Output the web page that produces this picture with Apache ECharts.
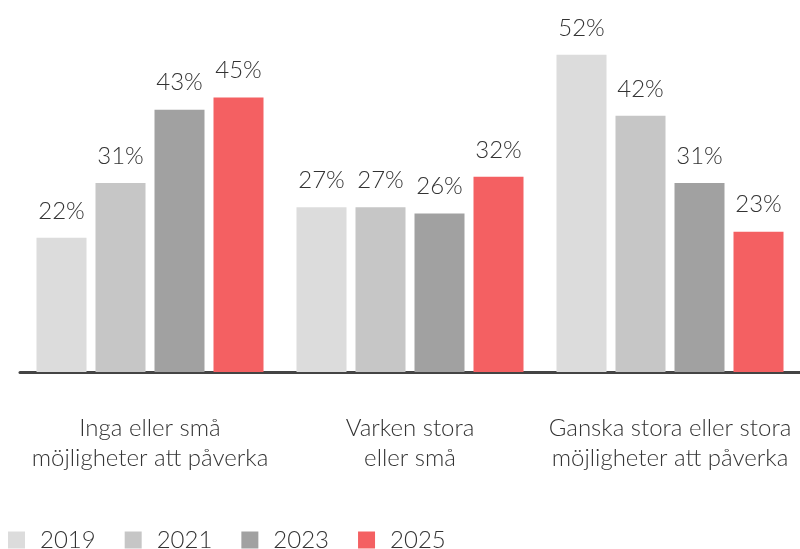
<!DOCTYPE html>
<html>
<head>
<meta charset="utf-8">
<script src="https://cdn.jsdelivr.net/npm/echarts@6/dist/echarts.min.js"></script>
<style>
  html, body { margin: 0; padding: 0; background: #fff; }
  #chart { width: 800px; height: 549px; }
</style>
</head>
<body>
<div id="chart"></div>
<script>
const categories = ['Inga eller små\nmöjligheter att påverka', 'Varken stora\neller små', 'Ganska stora eller stora\nmöjligheter att påverka']
const years = ['2019', '2021', '2023', '2025']
const values2019 = [22, 27, 52]
const values2021 = [31, 27, 42]
const values2023 = [43, 26, 31]
const values2025 = [45, 32, 23]
const colors = ['#DCDCDC', '#C6C6C6', '#A1A1A1', '#F46062']

const font = 'Lato, sans-serif'
const seriesData = [values2019, values2021, values2023, values2025]

const chart = echarts.init(document.getElementById('chart'))
chart.setOption({
  animation: false,
  color: colors,
  textStyle: { fontFamily: font },
  legend: {
    data: years,
    left: 3,
    top: 523,
    itemWidth: 17,
    itemHeight: 17,
    itemGap: 29,
    icon: 'rect',
    textStyle: {
      fontFamily: font,
      fontWeight: 300,
      fontSize: 24,
      color: '#333',
      padding: [0, 0, 0, 10]
    }
  },
  grid: {
    left: 20,
    right: 0,
    top: 6,
    bottom: 177
  },
  xAxis: {
    type: 'category',
    data: categories,
    axisTick: { show: false },
    axisLine: { lineStyle: { color: '#444', width: 3 } },
    axisLabel: {
      margin: 41,
      fontFamily: font,
      fontWeight: 300,
      fontSize: 24,
      lineHeight: 30,
      color: '#333',
      interval: 0
    }
  },
  yAxis: {
    type: 'value',
    min: 0,
    max: 60,
    show: false
  },
  series: seriesData.map((d, i) => ({
    name: years[i],
    type: 'bar',
    data: d,
    barWidth: 50,
    barGap: '18%',
    label: {
      show: true,
      position: 'top',
      distance: 15,
      formatter: '{c}%',
      fontFamily: font,
      fontWeight: 300,
      fontSize: 24,
      color: '#333'
    }
  }))
})
</script>
</body>
</html>
